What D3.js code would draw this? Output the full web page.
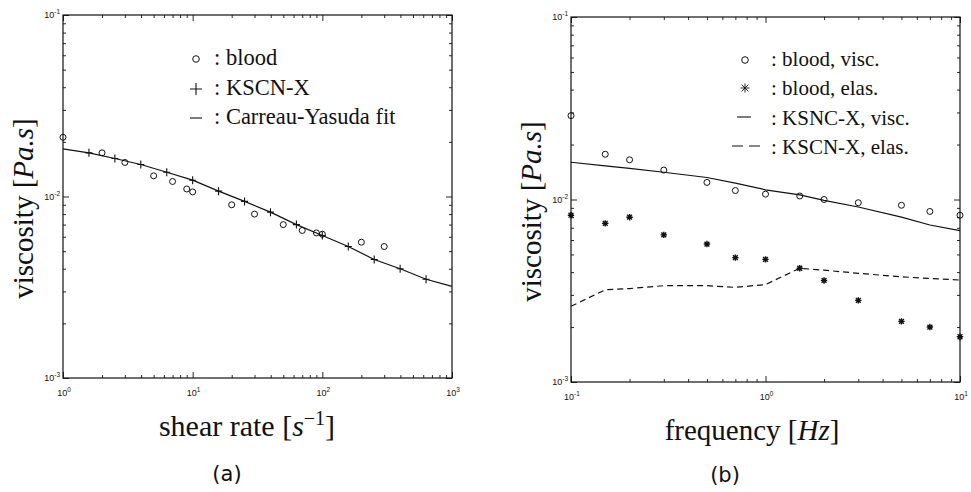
<!DOCTYPE html>
<html>
<head>
<meta charset="utf-8">
<script src="https://cdn.jsdelivr.net/npm/d3@7"></script>
<style>
  body { margin: 0; background: #fff; }
  text { fill: #111; }
</style>
</head>
<body>
<svg width="971" height="492"></svg>
<script>
// (a) shear viscosity vs shear rate
const shearBlood = [1, 2, 3, 5, 7, 9, 10, 20, 30, 50, 70, 90, 100, 200, 300];
const viscBlood  = [0.0212, 0.0174, 0.0154, 0.0130, 0.0121, 0.0110, 0.0106, 0.0090, 0.0080, 0.0070, 0.0065, 0.0063, 0.0062, 0.0056, 0.0053];
const shearKscn  = [1.585, 2.512, 3.981, 6.31, 10, 15.85, 25.12, 39.81, 63.1, 100, 158.5, 251.2, 398.1, 631];
const viscKscn   = [0.0174, 0.0162, 0.0150, 0.0136, 0.0123, 0.0107, 0.0094, 0.0082, 0.0070, 0.0061, 0.0053, 0.0045, 0.0040, 0.0035];
const shearFit   = [1, 1.585, 2.512, 3.981, 6.31, 10, 15.85, 25.12, 39.81, 63.1, 100, 158.5, 251.2, 398.1, 631, 1000];
const viscFit    = [0.0183, 0.0174, 0.0162, 0.0150, 0.0136, 0.0123, 0.0107, 0.0094, 0.0082, 0.0070, 0.0061, 0.0053, 0.0045, 0.0040, 0.0035, 0.0032];

// (b) oscillatory viscosity vs frequency
const freq       = [0.1, 0.15, 0.2, 0.3, 0.5, 0.7, 1, 1.5, 2, 3, 5, 7, 10];
const bloodVisc  = [0.0288, 0.0177, 0.0165, 0.0145, 0.0124, 0.0112, 0.0107, 0.01045, 0.0100, 0.0096, 0.0093, 0.0086, 0.0082];
const bloodElas  = [0.0082, 0.0074, 0.0080, 0.0064, 0.0057, 0.0048, 0.0047, 0.0042, 0.0036, 0.0028, 0.00215, 0.0020, 0.00177];
const kscnVisc   = [0.0160, 0.0153, 0.0148, 0.0141, 0.0132, 0.0123, 0.0113, 0.0106, 0.0099, 0.0091, 0.0080, 0.00725, 0.00675];
const kscnElas   = [0.0026, 0.0032, 0.00325, 0.00337, 0.00337, 0.0033, 0.00342, 0.0042, 0.0041, 0.00394, 0.00377, 0.00369, 0.00362];

// tick labels
const shearTicks = [1, 10, 100, 1000], shearExp = ["0", "1", "2", "3"];
const freqTicks  = [0.1, 1, 10],       freqExp  = ["-1", "0", "1"];
const viscTicks  = [0.001, 0.01, 0.1], viscExp  = ["-3", "-2", "-1"];

const svg = d3.select("svg");
const ink = "#111";
const serif = "'Liberation Serif', 'Times New Roman', serif";

function drawPanel(box, xDomain, xTicks, xExp) {
  const x = d3.scaleLog().domain(xDomain).range([box.left, box.right]);
  const y = d3.scaleLog().domain([0.001, 0.1]).range([box.bottom, box.top]);
  const g = svg.append("g");

  const isMajor = v => Math.abs(Math.log10(v) - Math.round(Math.log10(v))) < 1e-6;
  const xMinor = x.ticks().filter(v => !isMajor(v));
  const yMinor = y.ticks().filter(v => !isMajor(v));

  const tickSet = (axis, values, size, tr) => g.append("g")
      .attr("transform", tr)
      .call(axis.tickValues(values).tickSize(size).tickFormat(""))
      .call(s => s.select(".domain").remove())
      .call(s => s.selectAll("line").attr("stroke", ink).attr("stroke-width", 0.9));

  [[xMinor, -3], [xTicks, -6]].forEach(([vals, sz]) => {
    tickSet(d3.axisBottom(x), vals, sz, `translate(0,${box.bottom})`);
    tickSet(d3.axisTop(x), vals, sz, `translate(0,${box.top})`);
  });
  [[yMinor, -3], [viscTicks, -6]].forEach(([vals, sz]) => {
    tickSet(d3.axisLeft(y), vals, sz, `translate(${box.left},0)`);
    tickSet(d3.axisRight(y), vals, sz, `translate(${box.right},0)`);
  });

  g.append("rect")
    .attr("x", box.left).attr("y", box.top)
    .attr("width", box.right - box.left).attr("height", box.bottom - box.top)
    .attr("fill", "none").attr("stroke", ink).attr("stroke-width", 1.2);

  // power-of-ten tick labels
  const powLabel = (sel, exp) => {
    sel.append("tspan").text("10");
    sel.append("tspan").attr("dy", -4).attr("font-size", 6.5).text(exp);
  };
  xTicks.forEach((v, i) => {
    g.append("text")
      .attr("x", x(v) + 1).attr("y", box.bottom + 18)
      .attr("text-anchor", "middle")
      .attr("font-family", "'Liberation Sans', Arial, sans-serif").attr("font-size", 9)
      .call(powLabel, xExp[i]);
  });
  viscTicks.forEach((v, i) => {
    g.append("text")
      .attr("x", box.left - 3).attr("y", y(v) + 3)
      .attr("text-anchor", "end")
      .attr("font-family", "'Liberation Sans', Arial, sans-serif").attr("font-size", 9)
      .call(powLabel, viscExp[i]);
  });

  // y axis title
  const yt = g.append("text")
    .attr("transform", `translate(${box.left - 30},${(box.top + box.bottom) / 2 + 12}) rotate(-90)`)
    .attr("text-anchor", "middle")
    .attr("font-family", serif).attr("font-size", 29);
  yt.append("tspan").text("viscosity [");
  yt.append("tspan").attr("font-style", "italic").text("Pa.s");
  yt.append("tspan").text("]");

  return {g, x, y};
}

const circles = (p, xs, ys) => p.g.append("g").selectAll("circle")
  .data(xs).join("circle")
    .attr("cx", d => p.x(d)).attr("cy", (d, i) => p.y(ys[i])).attr("r", 3)
    .attr("fill", "none").attr("stroke", ink).attr("stroke-width", 1);

const line = (p, xs, ys, dash) => p.g.append("path")
  .datum(xs)
  .attr("d", d3.line().x(d => p.x(d)).y((d, i) => p.y(ys[i])))
  .attr("fill", "none").attr("stroke", ink).attr("stroke-width", 1.2)
  .attr("stroke-dasharray", dash || null);

// ---------- panel (a)
const a = drawPanel({left: 63, right: 452, top: 15, bottom: 378}, [1, 1000], shearTicks, shearExp);
line(a, shearFit, viscFit);
a.g.append("g").selectAll("path")
  .data(shearKscn).join("path")
    .attr("d", (d, i) => {
      const cx = a.x(d), cy = a.y(viscKscn[i]);
      return `M${cx - 3.5},${cy}H${cx + 3.5}M${cx},${cy - 4}V${cy + 4}`;
    })
    .attr("stroke", ink).attr("stroke-width", 1.1);
circles(a, shearBlood, viscBlood);

const xa = a.g.append("text").attr("x", 247).attr("y", 436)
  .attr("text-anchor", "middle").attr("font-family", serif).attr("font-size", 30);
xa.append("tspan").text("shear rate [");
xa.append("tspan").attr("font-style", "italic").text("s");
xa.append("tspan").attr("dy", -11).attr("font-size", 20).text("\u22121");
xa.append("tspan").attr("dy", 11).text("]");
a.g.append("text").attr("x", 227).attr("y", 481).attr("text-anchor", "middle")
  .attr("font-family", "'DejaVu Sans', sans-serif").attr("font-size", 21).text("(a)");

// legend (a)
const legA = a.g.append("g").attr("font-family", serif).attr("font-size", 22.5);
legA.append("circle").attr("cx", 196).attr("cy", 59).attr("r", 3.3)
  .attr("fill", "none").attr("stroke", ink).attr("stroke-width", 1);
legA.append("path").attr("d", "M190,89H202M196,83V95").attr("stroke", ink).attr("stroke-width", 1.1);
legA.append("path").attr("d", "M190,118H202").attr("stroke", ink).attr("stroke-width", 1.1);
[": blood", ": KSCN-X", ": Carreau-Yasuda fit"].forEach((t, i) =>
  legA.append("text").attr("x", 214).attr("y", 65 + i * 29.5).text(t));

// ---------- panel (b)
const b = drawPanel({left: 571, right: 960, top: 17, bottom: 382}, [0.1, 10], freqTicks, freqExp);
line(b, freq, kscnVisc);
line(b, freq, kscnElas, "6,4");
circles(b, freq, bloodVisc);
const star = (cx, cy, r) =>
  `M${cx - r},${cy}H${cx + r}M${cx},${cy - r}V${cy + r}` +
  `M${cx - r * 0.75},${cy - r * 0.75}L${cx + r * 0.75},${cy + r * 0.75}` +
  `M${cx - r * 0.75},${cy + r * 0.75}L${cx + r * 0.75},${cy - r * 0.75}`;
b.g.append("g").selectAll("path")
  .data(freq).join("path")
    .attr("d", (d, i) => star(b.x(d), b.y(bloodElas[i]), 3.2))
    .attr("stroke", ink).attr("stroke-width", 1.4);

const xb = b.g.append("text").attr("x", 752).attr("y", 440)
  .attr("text-anchor", "middle").attr("font-family", serif).attr("font-size", 29);
xb.append("tspan").text("frequency [");
xb.append("tspan").attr("font-style", "italic").text("Hz");
xb.append("tspan").text("]");
b.g.append("text").attr("x", 725).attr("y", 482).attr("text-anchor", "middle")
  .attr("font-family", "'DejaVu Sans', sans-serif").attr("font-size", 21).text("(b)");

// legend (b)
const legB = b.g.append("g").attr("font-family", serif).attr("font-size", 21);
legB.append("circle").attr("cx", 745).attr("cy", 60).attr("r", 3.3)
  .attr("fill", "none").attr("stroke", ink).attr("stroke-width", 1);
legB.append("path").attr("d", star(745, 88, 4.5)).attr("stroke", ink).attr("stroke-width", 0.9);
legB.append("path").attr("d", "M737,117H751").attr("stroke", ink).attr("stroke-width", 1.1);
legB.append("path").attr("d", "M732,146H760").attr("stroke", ink).attr("stroke-width", 1.1)
  .attr("stroke-dasharray", "11,6");
[": blood, visc.", ": blood, elas.", ": KSNC-X, visc.", ": KSCN-X, elas."].forEach((t, i) =>
  legB.append("text").attr("x", 771).attr("y", 66 + i * 29.3).text(t));
</script>
</body>
</html>
